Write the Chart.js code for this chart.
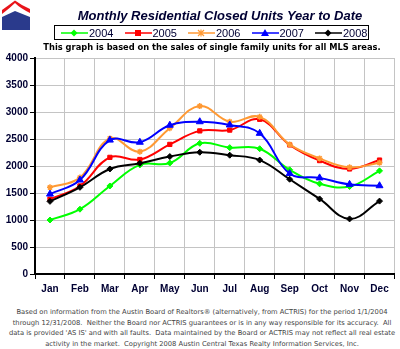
<!DOCTYPE html>
<html>
<head>
<meta charset="utf-8">
<script src="https://cdn.jsdelivr.net/npm/chart.js@4"></script>
<style>
  html, body { margin: 0; padding: 0; background: #fff; }
  #wrap { position: relative; width: 400px; height: 349px; overflow: hidden; font-family: Arial, "Liberation Sans", sans-serif; }
  #logo { position: absolute; left: 0; top: 0; }
  #title { position: absolute; left: 40px; width: 360px; top: 8px; text-align: center; font-weight: bold; font-style: italic; font-size: 13px; color: #000033; }
  #legend { position: absolute; left: 54px; top: 25px; width: 315px; height: 15px; border: 1px solid #000; box-sizing: border-box; }
  .item { position: absolute; top: 0; height: 14px; font-size: 11px; line-height: 14px; color: #000033; }
  .item svg { position: absolute; left: 0; top: 0; }
  .item span { position: absolute; left: 29px; top: 0; }
  #sub { position: absolute; left: 0; width: 424px; top: 42px; text-align: center; font-family: "DejaVu Sans", Verdana, sans-serif; font-weight: bold; font-size: 8.3px; color: #000; }
  #chartBox { position: absolute; left: 0; top: 0; width: 400px; height: 300px; }
  #foot { position: absolute; left: 0; width: 404px; top: 307px; text-align: center; font-family: "DejaVu Sans", Verdana, sans-serif; font-size: 6.75px; line-height: 10.5px; color: #444; white-space: nowrap; }
</style>
</head>
<body>
<div id="wrap">
  <div id="chartBox"><canvas id="closedChart" width="400" height="300"></canvas></div>
  <svg id="logo" width="34" height="32" viewBox="0 0 34 32">
    <path d="M2 17 L15 11 L30 17 L30 30 L2 30 Z" fill="#2a3a8c"/>
    <path d="M2 14 Q10 8 15 3 Q20 8 30 13 L30 9 Q21 5 15 0.5 Q9 5 2 10 Z" fill="#e8141a"/>
  </svg>
  <div id="title">Monthly Residential Closed Units Year to Date</div>
  <div id="legend"></div>
  <div id="sub">This graph is based on the sales of single family units for all MLS areas.</div>
  <div id="foot">
    Based on information from the Austin Board of Realtors® (alternatively, from ACTRIS) for the period 1/1/2004<br>
    through 12/31/2008.&nbsp; Neither the Board nor ACTRIS guarantees or is in any way responsible for its accuracy.&nbsp; All<br>
    data is provided 'AS IS' and with all faults.&nbsp; Data maintained by the Board or ACTRIS may not reflect all real estate<br>
    activity in the market.&nbsp; Copyright 2008 Austin Central Texas Realty Information Services, Inc.
  </div>
</div>

<script>
// Chart data
const months = ['Jan', 'Feb', 'Mar', 'Apr', 'May', 'Jun', 'Jul', 'Aug', 'Sep', 'Oct', 'Nov', 'Dec'];
const yTicks = [0, 250, 500, 750, 1000, 1250, 1500, 1750, 2000, 2250, 2500, 2750, 3000, 3250, 3500, 3750, 4000];

const units2004 = [1000, 1200, 1630, 2020, 2055, 2420, 2340, 2320, 1930, 1670, 1620, 1910];
const units2005 = [1385, 1630, 2160, 2120, 2400, 2650, 2665, 2865, 2390, 2100, 1945, 2110];
const units2006 = [1605, 1785, 2510, 2265, 2700, 3110, 2820, 2910, 2400, 2140, 1975, 2060];
const units2007 = [1480, 1740, 2480, 2440, 2755, 2820, 2760, 2605, 1860, 1780, 1660, 1635];
const units2008 = [1345, 1605, 1945, 2050, 2175, 2255, 2200, 2110, 1755, 1390, 1020, 1350];

const seriesNames = ['2004', '2005', '2006', '2007', '2008'];
const seriesColors = ['#00ff00', '#ff0000', '#ff9933', '#0000ff', '#000000'];
const seriesMarkers = ['rectRot', 'rect', 'star', 'triangle', 'rectRot'];
const seriesValues = [units2004, units2005, units2006, units2007, units2008];

const axisTextColor = '#000033';

// Build datasets
const datasets = seriesNames.map((name, i) => ({
    label: name,
    data: seriesValues[i],
    borderColor: seriesColors[i],
    backgroundColor: seriesColors[i],
    borderWidth: 2,
    tension: 0.4,
    pointStyle: seriesMarkers[i],
    pointRadius: seriesMarkers[i] === 'triangle' ? 4 : 3,
    pointBorderWidth: seriesMarkers[i] === 'star' ? 1.5 : 1,
    pointBorderColor: seriesColors[i],
    pointBackgroundColor: seriesColors[i],
    order: seriesNames.length - i,
    fill: false
}));

// HTML legend, line + marker like the original
function buildLegend() {
    const legendEl = document.getElementById('legend');
    seriesNames.forEach((name, i) => {
        const item = document.createElement('div');
        item.className = 'item';
        item.style.left = (5 + i * 63.5) + 'px';
        const c = seriesColors[i];
        let marker = '';
        if (seriesMarkers[i] === 'rect') {
            marker = `<rect x="11" y="4" width="6" height="6" fill="${c}"/>`;
        } else if (seriesMarkers[i] === 'rectRot') {
            marker = `<path d="M14 3.5 L17.5 7 L14 10.5 L10.5 7 Z" fill="${c}"/>`;
        } else if (seriesMarkers[i] === 'triangle') {
            marker = `<path d="M14 3 L18 10 L10 10 Z" fill="${c}"/>`;
        } else {
            marker = `<path d="M11 4 L17 10 M17 4 L11 10 M14 3.5 L14 10.5" stroke="${c}" stroke-width="1.2"/>`;
        }
        item.innerHTML = `<svg width="29" height="14"><line x1="1" y1="7" x2="28" y2="7" stroke="${c}" stroke-width="1.5"/>${marker}</svg><span>${name}</span>`;
        legendEl.appendChild(item);
    });
}

function createChart() {
    const ctx = document.getElementById('closedChart');
    new Chart(ctx, {
        type: 'line',
        data: {
            labels: months,
            datasets: datasets
        },
        options: {
            responsive: false,
            animation: false,
            layout: {
                padding: { top: 58, right: 3, left: 0, bottom: 0 }
            },
            plugins: {
                legend: { display: false },
                tooltip: { enabled: false }
            },
            scales: {
                x: {
                    offset: true,
                    grid: {
                        offset: true,
                        color: '#c4c4c4',
                        lineWidth: 1,
                        tickLength: 5,
                        tickColor: '#000'
                    },
                    border: { color: '#000', width: 2 },
                    ticks: {
                        color: axisTextColor,
                        font: { family: 'Arial, "Liberation Sans"', size: 10, weight: 'bold' },
                        padding: 4,
                        maxRotation: 0
                    },
                    afterFit: function(scale) { scale.height = 26; }
                },
                y: {
                    min: 0,
                    max: 4000,
                    afterBuildTicks: function(scale) {
                        scale.ticks = yTicks.map(v => ({ value: v }));
                    },
                    grid: {
                        color: '#c4c4c4',
                        lineWidth: 1,
                        tickLength: 5,
                        tickColor: '#000'
                    },
                    border: { color: '#000', width: 2 },
                    ticks: {
                        color: axisTextColor,
                        font: { family: 'Arial, "Liberation Sans"', size: 10, weight: 'bold' },
                        padding: 2,
                        callback: function(value) { return String(value); }
                    },
                    afterFit: function(scale) { scale.width = 35; }
                }
            }
        }
    });
}

document.addEventListener('DOMContentLoaded', function() {
    buildLegend();
    createChart();
});
</script>
</body>
</html>
